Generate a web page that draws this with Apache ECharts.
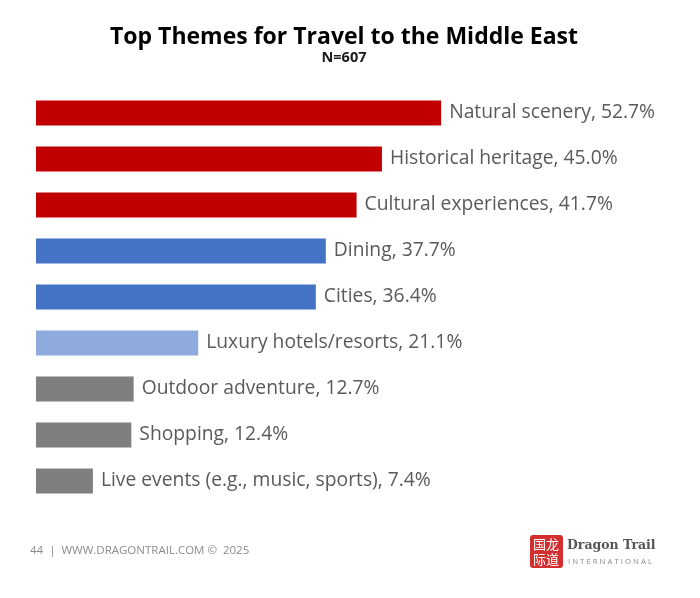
<!DOCTYPE html>
<html>
<head>
<meta charset="utf-8">
<script src="https://cdn.jsdelivr.net/npm/echarts@6/dist/echarts.min.js"></script>
<style>html,body{margin:0;padding:0;background:#fff;}#c{width:700px;height:598px;}</style>
</head>
<body>
<div id="c"></div>
<script>
const categories = ["Natural scenery","Historical heritage","Cultural experiences","Dining","Cities","Luxury hotels/resorts","Outdoor adventure","Shopping","Live events (e.g., music, sports)"];
const values = [52.7,45.0,41.7,37.7,36.4,21.1,12.7,12.4,7.4];
const barColors = ["#C00000","#C00000","#C00000","#4472C4","#4472C4","#8FAADC","#7F7F7F","#7F7F7F","#7F7F7F"];
const titleText = "Top Themes for Travel to the Middle East";
const subtitleText = "N=607";
const footerText = "44  |  WWW.DRAGONTRAIL.COM ©  2025";

const chart = echarts.init(document.getElementById('c'), null, {renderer:'canvas'});
const font = "'Open Sans', sans-serif";
chart.setOption({
  animation:false,
  backgroundColor:'#fff',
  grid:{left:36, top:90, width:615, height:414, containLabel:false},
  xAxis:{type:'value', min:0, max:80, show:false},
  yAxis:{type:'category', data:categories, inverse:true, show:false},
  series:[{
    type:'bar', barWidth:25,
    data:values.map((v,i)=>({value:v, itemStyle:{color:barColors[i]}})),
    label:{show:true, position:'right', distance:8, fontFamily:font, fontSize:19.3, color:'#5a5a5a',
      formatter:p=>categories[p.dataIndex]+', '+p.value.toFixed(1)+'%'}
  }],
  graphic:[
    {type:'text', x:344, y:37, style:{text:titleText, fontFamily:font, fontWeight:'bold', fontSize:23, fill:'#000', textAlign:'center', textVerticalAlign:'middle'}},
    {type:'text', x:344, y:58, style:{text:subtitleText, fontFamily:font, fontWeight:'bold', fontSize:14.5, fill:'#1a1a1a', textAlign:'center', textVerticalAlign:'middle'}},
    {type:'text', x:30, y:551, style:{text:footerText, fontFamily:font, fontSize:11.5, fill:'#8C8C8C', textVerticalAlign:'middle'}},
    {type:'group', left:530, top:535, children:[
      {type:'rect', shape:{x:0,y:0,width:33,height:33,r:3}, style:{fill:'#D32F2F'}},
      {type:'text', x:3, y:2, style:{text:'国龙\n际道', fontFamily:"'Noto Sans CJK SC'", fontSize:13, lineHeight:15, fill:'#fff'}}
    ]},
    {type:'text', x:567, y:546, style:{text:'Dragon Trail', fontFamily:"'DejaVu Serif', serif", fontWeight:'bold', fontSize:12.5, fill:'#555', textVerticalAlign:'middle'}},
    {type:'text', x:568, y:562, style:{text:'I N T E R N A T I O N A L', fontFamily:font, fontSize:7.8, fill:'#888', textVerticalAlign:'middle'}}
  ]
});
</script>
</body>
</html>
